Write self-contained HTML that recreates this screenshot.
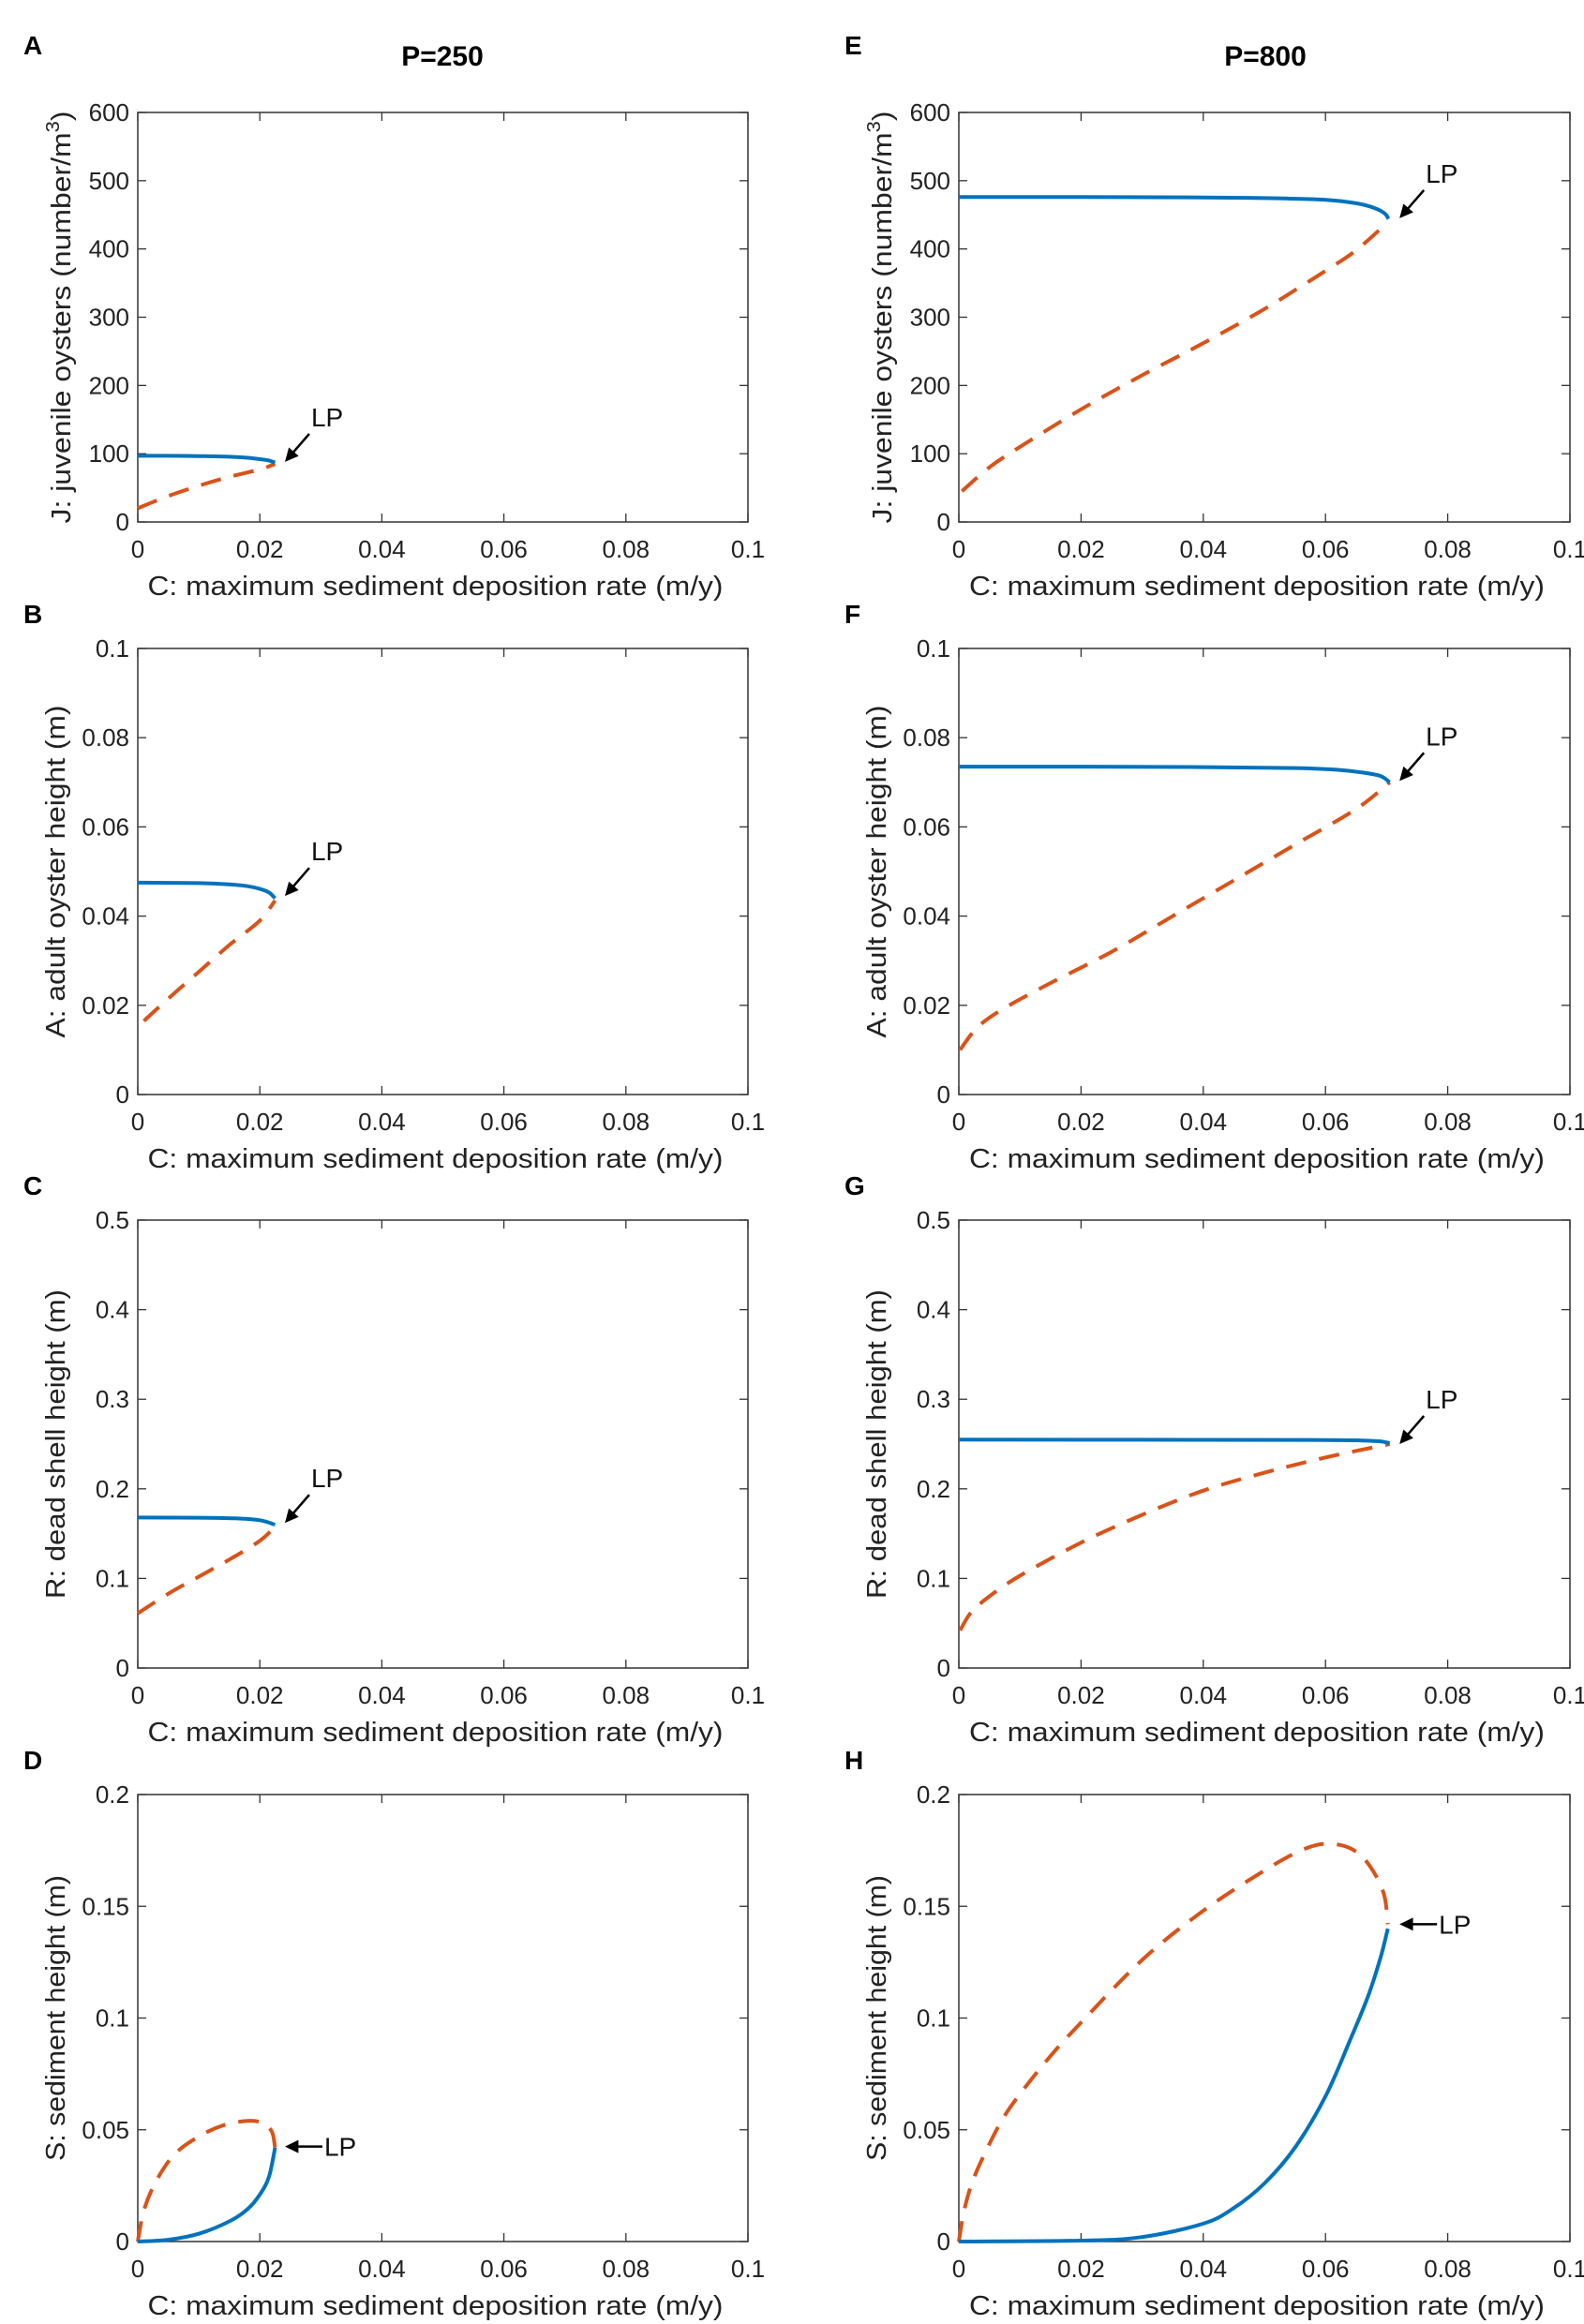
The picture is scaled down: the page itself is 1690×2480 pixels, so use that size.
<!DOCTYPE html>
<html><head><meta charset="utf-8"><style>
html,body{margin:0;padding:0;background:#fff;}
svg{display:block;font-family:"Liberation Sans",Arial,sans-serif;}
</style></head><body>
<svg id="fig" width="1690" height="2480" viewBox="0 0 1690 2480" xmlns="http://www.w3.org/2000/svg">
<rect width="1690" height="2480" fill="#fff"/>
<text x="472" y="70" font-size="30" font-weight="bold" text-anchor="middle">P=250</text>
<text x="1350" y="70" font-size="30" font-weight="bold" text-anchor="middle">P=800</text>
</svg>
<script>
// ---- data arrays ----
const xTicks = [0, 0.02, 0.04, 0.06, 0.08, 0.1];
const xTickLabels = ["0", "0.02", "0.04", "0.06", "0.08", "0.1"];
const yTicksJ = [0, 100, 200, 300, 400, 500, 600];
const yTickLabelsJ = ["0","100","200","300","400","500","600"];
const yTicksA = [0, 0.02, 0.04, 0.06, 0.08, 0.1];
const yTickLabelsA = ["0","0.02","0.04","0.06","0.08","0.1"];
const yTicksR = [0, 0.1, 0.2, 0.3, 0.4, 0.5];
const yTickLabelsR = ["0","0.1","0.2","0.3","0.4","0.5"];
const yTicksS = [0, 0.05, 0.1, 0.15, 0.2];
const yTickLabelsS = ["0","0.05","0.1","0.15","0.2"];

const aStableX = [0, 0.005, 0.01, 0.015, 0.018, 0.02, 0.0215, 0.0225];
const aStableY = [97, 97, 96.5, 95.5, 94, 92, 90, 87];
const aUnstableX = [0, 0.005, 0.01, 0.015, 0.02, 0.0225];
const aUnstableY = [20, 38, 53, 66, 77, 85];

const eStableX = [0, 0.02, 0.04, 0.05, 0.06, 0.065, 0.068, 0.0697, 0.0703];
const eStableY = [476, 476, 475.5, 474.5, 472, 467, 460, 452, 444];
const eUnstableX = [0.0005, 0.005, 0.01, 0.02, 0.03, 0.04, 0.05, 0.06, 0.065, 0.0703];
const eUnstableY = [45, 80, 110, 165, 215, 262, 312, 368, 398, 440];

const bStableX = [0, 0.01, 0.015, 0.018, 0.02, 0.0215, 0.0225];
const bStableY = [0.0475, 0.0474, 0.0471, 0.0467, 0.0461, 0.0453, 0.0440];
const bUnstableX = [0.001, 0.005, 0.01, 0.015, 0.02, 0.0225];
const bUnstableY = [0.0165, 0.0215, 0.0275, 0.0335, 0.039, 0.0435];

const fStableX = [0, 0.02, 0.04, 0.055, 0.062, 0.066, 0.069, 0.0705];
const fStableY = [0.0735, 0.0735, 0.0734, 0.0732, 0.0728, 0.0722, 0.0714, 0.070];
const fUnstableX = [0.0002, 0.003, 0.007, 0.015, 0.025, 0.035, 0.045, 0.055, 0.065, 0.0705];
const fUnstableY = [0.010, 0.015, 0.019, 0.025, 0.032, 0.040, 0.048, 0.056, 0.064, 0.070];

const cStableX = [0, 0.01, 0.016, 0.02, 0.0225];
const cStableY = [0.168, 0.1678, 0.167, 0.165, 0.160];
const cUnstableX = [0, 0.005, 0.01, 0.015, 0.02, 0.0225];
const cUnstableY = [0.061, 0.083, 0.102, 0.121, 0.142, 0.158];

const gStableX = [0, 0.03, 0.06, 0.066, 0.069, 0.0705];
const gStableY = [0.255, 0.2548, 0.2545, 0.254, 0.253, 0.251];
const gUnstableX = [0.0002, 0.002, 0.005, 0.01, 0.02, 0.03, 0.04, 0.05, 0.06, 0.0705];
const gUnstableY = [0.042, 0.062, 0.08, 0.103, 0.14, 0.171, 0.198, 0.218, 0.235, 0.250];

const dStableX = [0, 0.005, 0.01, 0.015, 0.018, 0.02, 0.0215, 0.0225];
const dStableY = [0, 0.0008, 0.0035, 0.009, 0.0145, 0.021, 0.029, 0.042];
const dUnstableX = [0, 0.001, 0.003, 0.006, 0.01, 0.014, 0.018, 0.0205, 0.022, 0.0225];
const dUnstableY = [0, 0.014, 0.027, 0.039, 0.047, 0.052, 0.054, 0.053, 0.049, 0.042];

const hStableX = [0, 0.02, 0.03, 0.04, 0.045, 0.05, 0.055, 0.06, 0.064, 0.067, 0.069, 0.0702];
const hStableY = [0, 0.0004, 0.002, 0.008, 0.015, 0.026, 0.042, 0.065, 0.09, 0.11, 0.127, 0.14];
const hUnstableX = [0, 0.0008, 0.002, 0.004, 0.007, 0.01, 0.015, 0.02, 0.03, 0.04, 0.05, 0.056, 0.06, 0.064, 0.067, 0.0695, 0.0702];
const hUnstableY = [0, 0.013, 0.025, 0.038, 0.054, 0.066, 0.083, 0.098, 0.126, 0.148, 0.166, 0.175, 0.178, 0.176, 0.169, 0.156, 0.142];

// ---- drawing ----
const NS = "http://www.w3.org/2000/svg";
const svg = document.getElementById("fig");
function mk(tag, attrs, parent){ const e=document.createElementNS(NS,tag); for(const k in attrs) e.setAttribute(k,attrs[k]); (parent||svg).appendChild(e); return e; }

const cols = [{l:147,r:798},{l:1023,r:1675}];
const rows = [{t:120,b:557},{t:692,b:1168},{t:1302,b:1780},{t:1915,b:2392}];

const panels = [
 {id:"a",letter:"A",c:0,r:0,ymax:600,yt:yTicksJ,yl:yTickLabelsJ,sx:aStableX,sy:aStableY,ux:aUnstableX,uy:aUnstableY,lab:"J",lp:[0.0235,88],lpMode:"diag"},
 {id:"b",letter:"B",c:0,r:1,ymax:0.1,yt:yTicksA,yl:yTickLabelsA,sx:bStableX,sy:bStableY,ux:bUnstableX,uy:bUnstableY,lab:"A: adult oyster height (m)",lp:[0.0235,0.0445],lpMode:"diag"},
 {id:"c",letter:"C",c:0,r:2,ymax:0.5,yt:yTicksR,yl:yTickLabelsR,sx:cStableX,sy:cStableY,ux:cUnstableX,uy:cUnstableY,lab:"R: dead shell height (m)",lp:[0.0235,0.162],lpMode:"diag"},
 {id:"d",letter:"D",c:0,r:3,ymax:0.2,yt:yTicksS,yl:yTickLabelsS,sx:dStableX,sy:dStableY,ux:dUnstableX,uy:dUnstableY,lab:"S: sediment height (m)",lp:[0.0235,0.0425],lpMode:"horiz"},
 {id:"e",letter:"E",c:1,r:0,ymax:600,yt:yTicksJ,yl:yTickLabelsJ,sx:eStableX,sy:eStableY,ux:eUnstableX,uy:eUnstableY,lab:"J",lp:[0.0715,445],lpMode:"diag"},
 {id:"f",letter:"F",c:1,r:1,ymax:0.1,yt:yTicksA,yl:yTickLabelsA,sx:fStableX,sy:fStableY,ux:fUnstableX,uy:fUnstableY,lab:"A: adult oyster height (m)",lp:[0.0715,0.0703],lpMode:"diag"},
 {id:"g",letter:"G",c:1,r:2,ymax:0.5,yt:yTicksR,yl:yTickLabelsR,sx:gStableX,sy:gStableY,ux:gUnstableX,uy:gUnstableY,lab:"R: dead shell height (m)",lp:[0.0715,0.250],lpMode:"diag"},
 {id:"h",letter:"H",c:1,r:3,ymax:0.2,yt:yTicksS,yl:yTickLabelsS,sx:hStableX,sy:hStableY,ux:hUnstableX,uy:hUnstableY,lab:"S: sediment height (m)",lp:[0.0715,0.142],lpMode:"horiz"}
];

function smooth(pts){
  if(pts.length<3) return pts.map((p,i)=>(i?"L":"M")+p[0].toFixed(1)+","+p[1].toFixed(1)).join(" ");
  let d="M"+pts[0][0].toFixed(1)+","+pts[0][1].toFixed(1);
  for(let i=0;i<pts.length-1;i++){
    const p0=pts[i-1]||pts[i], p1=pts[i], p2=pts[i+1], p3=pts[i+2]||p2;
    const c1=[p1[0]+(p2[0]-p0[0])/6, p1[1]+(p2[1]-p0[1])/6];
    const c2=[p2[0]-(p3[0]-p1[0])/6, p2[1]-(p3[1]-p1[1])/6];
    d+=` C${c1[0].toFixed(1)},${c1[1].toFixed(1)} ${c2[0].toFixed(1)},${c2[1].toFixed(1)} ${p2[0].toFixed(1)},${p2[1].toFixed(1)}`;
  }
  return d;
}

panels.forEach(p=>{
  const L=cols[p.c].l, R=cols[p.c].r, T=rows[p.r].t, B=rows[p.r].b;
  const xs=v=>L+(v/0.1)*(R-L);
  const ys=v=>B-(v/p.ymax)*(B-T);
  const g=mk("g",{});
  
  
  const letter=mk("text",{x:L-122,y:T-(p.r===0?62:27),"font-size":28,"font-weight":"bold"},g);
  
  
  letter.textContent=p.letter;
  const fr=mk("rect",{x:L,y:T,width:R-L,height:B-T,fill:"none",stroke:"#333","stroke-width":1.5},g);
  
  
  xTicks.forEach((v,i)=>{
    const x=xs(v);
    mk("line",{x1:x,y1:B,x2:x,y2:B-9,stroke:"#333","stroke-width":1.3},g);
    mk("line",{x1:x,y1:T,x2:x,y2:T+9,stroke:"#333","stroke-width":1.3},g);
    const t=mk("text",{x:x,y:B+38,"font-size":26,"text-anchor":"middle",fill:"#222"},g);
    
    
    t.textContent=xTickLabels[i];
  });
  p.yt.forEach((v,i)=>{
    const y=ys(v);
    mk("line",{x1:L,y1:y,x2:L+9,y2:y,stroke:"#333","stroke-width":1.3},g);
    mk("line",{x1:R,y1:y,x2:R-9,y2:y,stroke:"#333","stroke-width":1.3},g);
    const t=mk("text",{x:L-9,y:y+9,"font-size":26,"text-anchor":"end",fill:"#222"},g);
    
    
    t.textContent=p.yl[i];
  });
  const xl=mk("text",{x:(L+R)/2-8,y:B+78,"font-size":29,"text-anchor":"middle",fill:"#222",textLength:614,lengthAdjust:"spacingAndGlyphs"},g);
  
  
  xl.textContent="C: maximum sediment deposition rate (m/y)";
  const cy=(T+B)/2, ax=L-78;
  const yl=mk("text",{x:ax,y:cy,"font-size":29,"text-anchor":"middle",fill:"#222",transform:`rotate(-90 ${ax} ${cy})`},g);
  
  
  if(p.lab==="J"){
    yl.setAttribute("textLength","440"); yl.setAttribute("lengthAdjust","spacingAndGlyphs");
    yl.setAttribute("x",ax); yl.setAttribute("y",cy+6);
    yl.appendChild(document.createTextNode("J: juvenile oysters (number/m"));
    const s=mk("tspan",{dy:-12,"font-size":20},yl); s.textContent="3";
    const s2=mk("tspan",{dy:12},yl); s2.textContent=")";
  } else {
    yl.setAttribute("textLength", p.lab.startsWith("S")?"305":(p.lab.startsWith("A")?"355":"330"));
    yl.setAttribute("lengthAdjust","spacingAndGlyphs");
    yl.textContent=p.lab;
  }
  const toPts=(X,Y)=>X.map((v,i)=>[xs(v),ys(Y[i])]);
  const u=mk("path",{d:smooth(toPts(p.ux,p.uy)),fill:"none",stroke:"#D95319","stroke-width":4,"stroke-dasharray":"22,14"},g);
  
  
  const s=mk("path",{d:smooth(toPts(p.sx,p.sy)),fill:"none",stroke:"#0072BD","stroke-width":4},g);
  
  
  const tx=xs(p.lp[0])+4, ty=ys(p.lp[1]);
  let x2,y2,lx,ly;
  if(p.lpMode==="diag"){ x2=tx+26; y2=ty-30; lx=tx+28; ly=ty-38; }
  else { x2=tx+40; y2=ty; lx=tx+42; ly=ty+10; }
  const ang=Math.atan2(y2-ty,x2-tx);
  const ar=mk("g",{},g);
  
  
  mk("line",{x1:tx+Math.cos(ang)*6,y1:ty+Math.sin(ang)*6,x2:x2,y2:y2,stroke:"#000","stroke-width":2.5},ar);
  const hl=16, hw=0.45;
  mk("polygon",{points:`${tx},${ty} ${tx+hl*Math.cos(ang+hw)},${ty+hl*Math.sin(ang+hw)} ${tx+hl*Math.cos(ang-hw)},${ty+hl*Math.sin(ang-hw)}`,fill:"#000"},ar);
  const lt=mk("text",{x:lx,y:ly,"font-size":28,fill:"#111"},g);
  
  
  lt.textContent="LP";
});
</script>
</body></html>
